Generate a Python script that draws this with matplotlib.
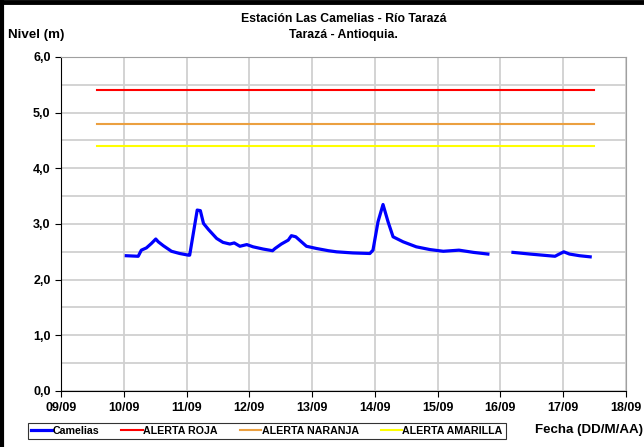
import numpy as np
import pandas as pd
import matplotlib
matplotlib.use("Agg")
import matplotlib.pyplot as plt
import matplotlib.dates as mdates
from matplotlib.lines import Line2D
from matplotlib.ticker import MultipleLocator, FuncFormatter

plt.rcParams['font.family'] = ['Liberation Sans', 'DejaVu Sans']
plt.rcParams['font.weight'] = 'bold'

# nivel Camelias: dia (fraccion de septiembre) y nivel en m; NaN = sin dato
dias = [10.04, 10.23, 10.28, 10.36, 10.44, 10.51, 10.55, 10.63, 10.76, 10.89, 11.03, 11.05,
        11.17, 11.22, 11.27, 11.35, 11.48, 11.58, 11.69, 11.76, 11.85, 11.96, 12.06, 12.22,
        12.37, 12.41, 12.51, 12.62, 12.67, 12.74, 12.91, 13.07, 13.26, 13.39, 13.65, 13.92,
        13.97, 14.05, 14.13, 14.21, 14.29, 14.45, 14.66, 14.88, 15.09, 15.34, 15.57, 15.80,
        16.00,
        16.20, 16.47, 16.87, 16.92, 17.01, 17.10, 17.26, 17.43]
nivel = [2.43, 2.42, 2.53, 2.57, 2.65, 2.73, 2.68, 2.61, 2.51, 2.47, 2.44, 2.44,
         3.25, 3.24, 3.01, 2.90, 2.74, 2.67, 2.64, 2.66, 2.60, 2.63, 2.59, 2.55,
         2.52, 2.56, 2.64, 2.71, 2.79, 2.77, 2.60, 2.56, 2.52, 2.50, 2.48, 2.47,
         2.53, 3.04, 3.35, 3.04, 2.77, 2.68, 2.59, 2.54, 2.51, 2.53, 2.49, 2.46,
         np.nan,
         2.49, 2.46, 2.42, 2.45, 2.50, 2.46, 2.43, 2.41]

# umbrales de alerta
alerta_inicio = 9.57
alerta_fin = 17.49
alerta_roja = 5.4
alerta_naranja = 4.8
alerta_amarilla = 4.4

base = pd.Timestamp("2011-09-01")
def to_date(d):
    return base + pd.to_timedelta(np.asarray(d) - 1, unit="D")

fig = plt.figure(figsize=(6.44, 4.47), dpi=100)
ax = fig.add_axes([0.0947, 0.1253, 0.8773, 0.7472])

FS = 8.8
ln_cam, = ax.plot(to_date(dias), nivel, color='#0000FF', lw=2.3, label='Camelias')
xa = to_date([alerta_inicio, alerta_fin])
ln_r, = ax.plot(xa, [alerta_roja] * 2, color='#FF0000', lw=1.5, label='ALERTA ROJA')
ln_n, = ax.plot(xa, [alerta_naranja] * 2, color='#EBA040', lw=1.5, label='ALERTA NARANJA')
ln_a, = ax.plot(xa, [alerta_amarilla] * 2, color='#FFFF00', lw=1.5, label='ALERTA AMARILLA')

ax.set_xlim(to_date(9), to_date(18))
ax.set_ylim(0, 6)
ax.xaxis.set_major_locator(mdates.DayLocator())
ax.xaxis.set_major_formatter(mdates.DateFormatter('%d/%m'))
ax.yaxis.set_major_locator(MultipleLocator(1))
ax.yaxis.set_minor_locator(MultipleLocator(0.5))
ax.yaxis.set_major_formatter(FuncFormatter(lambda v, p: f"{v:.1f}".replace('.', ',')))
ax.grid(True, which='both', color='#d0d0d0', lw=1.3)
ax.set_axisbelow(True)
ax.tick_params(axis='both', which='major', labelsize=9, length=4, width=0.8, direction='out')
ax.tick_params(axis='y', which='minor', length=0)
ax.tick_params(axis='x', pad=4)
for s in ['top', 'right']:
    ax.spines[s].set_color('#a0a0a0')
for s in ['left', 'bottom']:
    ax.spines[s].set_color('black')
for lab in ax.get_xticklabels() + ax.get_yticklabels():
    lab.set_fontweight('bold')

fig.text(0.533, 0.957, 'Estación Las Camelias - Río Tarazá', ha='center', va='center', fontsize=FS, fontweight='bold')
fig.text(0.533, 0.922, 'Tarazá - Antioquia.', ha='center', va='center', fontsize=FS, fontweight='bold')
fig.text(0.012, 0.922, 'Nivel (m)', ha='left', va='center', fontsize=9.6, fontweight='bold')
fig.text(0.999, 0.038, 'Fecha (DD/M/AA)', ha='right', va='center', fontsize=9.6, fontweight='bold')

leg = fig.legend(handles=[ln_cam, ln_r, ln_n, ln_a], loc='center left', bbox_to_anchor=(0.043, 0.036),
                 ncol=4, fontsize=7.7, frameon=True, fancybox=False, handlelength=2.0,
                 handletextpad=0.05, columnspacing=2.05, borderpad=0.3, borderaxespad=0,
                 edgecolor='black')
leg.get_frame().set_linewidth(0.8)
for t in leg.get_texts():
    t.set_fontweight('bold')

# marco superior e izquierdo de la figura
fig.add_artist(Line2D([0, 1], [0.9955, 0.9955], transform=fig.transFigure, color='black', lw=3.5))
fig.add_artist(Line2D([0.0025, 0.0025], [0, 1], transform=fig.transFigure, color='black', lw=3))

fig.savefig('out.png', dpi=100)
